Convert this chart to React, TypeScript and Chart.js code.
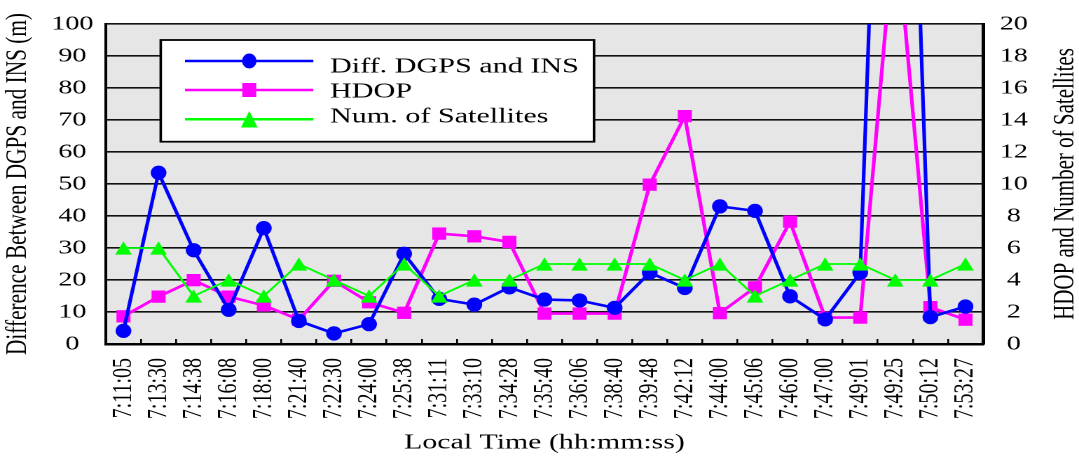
import React, { useEffect, useRef } from 'react';
import { Chart, registerables } from 'chart.js';

Chart.register(...registerables);

// ---------- data ----------
const categories = [
  '7:11:05', '7:13:30', '7:14:38', '7:16:08', '7:18:00', '7:21:40', '7:22:30', '7:24:00', '7:25:38',
  '7:31:11', '7:33:10', '7:34:28', '7:35:40', '7:36:06', '7:38:40', '7:39:48', '7:42:12', '7:44:00',
  '7:45:06', '7:46:00', '7:47:00', '7:49:01', '7:49:25', '7:50:12', '7:53:27',
];
const diffDgpsIns = [
  4.1, 53.5, 29.3, 10.7, 36.2, 7.2, 3.3, 6.2, 28.2, 14.1, 12.3, 17.7, 13.9, 13.6, 11.3, 22.3, 17.5,
  43.0, 41.6, 14.9, 7.7, 22.3, 330, 8.4, 11.7,
];
const hdop = [
  1.73, 2.96, 3.99, 2.96, 2.41, 1.52, 3.95, 2.61, 1.95, 6.9, 6.73, 6.38, 1.9, 1.9, 1.9, 9.96, 14.24,
  1.93, 3.54, 7.65, 1.65, 1.65, 26.7, 2.3, 1.52,
];
const numSatellites = [6, 6, 3, 4, 3, 5, 4, 3, 5, 3, 4, 4, 5, 5, 5, 5, 4, 5, 3, 4, 5, 5, 4, 4, 5];

const seriesLabels = ['Diff. DGPS and INS', 'HDOP', 'Num. of Satellites'];
const leftAxisTitle = 'Difference Between DGPS and INS (m)';
const rightAxisTitle = 'HDOP and Number of Satellites';
const xAxisTitle = 'Local Time (hh:mm:ss)';

// ---------- styling ----------
const CANVAS_W = 770;
const CANVAS_H = 457;
const SX = 1079 / CANVAS_W;
const FONT = "'Liberation Serif', 'Times New Roman', serif";

type Shape = 'circle' | 'square' | 'triangle';
interface MarkerStyle { shape: Shape; color: string; w: number; h: number; lw: number; lgW: number; lgH: number }
const styles: MarkerStyle[] = [
  { shape: 'circle', color: '#0000ff', w: 11.2, h: 14.3, lw: 2.6, lgW: 10.2, lgH: 15 },
  { shape: 'square', color: '#ff00ff', w: 10, h: 12.3, lw: 2.6, lgW: 10, lgH: 14 },
  { shape: 'triangle', color: '#00ff00', w: 11.9, h: 13.3, lw: 1.7, lgW: 11.9, lgH: 16.5 },
];

function drawMarker(ctx: CanvasRenderingContext2D, s: MarkerStyle, x: number, y: number, w: number, h: number) {
  ctx.save();
  ctx.fillStyle = s.color;
  ctx.beginPath();
  if (s.shape === 'circle') {
    ctx.ellipse(x, y, w / 2, h / 2, 0, 0, Math.PI * 2);
  } else if (s.shape === 'square') {
    ctx.rect(x - w / 2, y - h / 2, w, h);
  } else {
    ctx.moveTo(x, y - h / 2);
    ctx.lineTo(x + w / 2, y + h / 2);
    ctx.lineTo(x - w / 2, y + h / 2);
    ctx.closePath();
  }
  ctx.fill();
  ctx.restore();
}

const plotBackground = {
  id: 'plotBackground',
  beforeDraw(chart: any) {
    const { ctx, chartArea: a } = chart;
    ctx.save();
    ctx.fillStyle = '#e6e6e6';
    ctx.fillRect(a.left, a.top, a.right - a.left, a.bottom - a.top);
    ctx.restore();
  },
};

const markers = {
  id: 'markers',
  afterDatasetDraw(chart: any, args: any) {
    const s = styles[args.index];
    const a = chart.chartArea;
    for (const el of args.meta.data) {
      if (el.skip) continue;
      if (el.y < a.top - 0.5 || el.y > a.bottom + 0.5) continue;
      drawMarker(chart.ctx, s, el.x, el.y, s.w, s.h);
    }
  },
};

const boxLegend = {
  id: 'boxLegend',
  afterDraw(chart: any) {
    const ctx = chart.ctx as CanvasRenderingContext2D;
    const bx = 114.7, by = 40, bw = 309.2, bh = 101.7;
    ctx.save();
    ctx.fillStyle = '#ffffff';
    ctx.fillRect(bx, by, bw, bh);
    ctx.strokeStyle = '#000';
    ctx.lineWidth = 1.8;
    ctx.strokeRect(bx, by, bw, bh);
    const rowsLine = [61, 90, 119.3];
    const rowsText = [72.6, 97.6, 122.5];
    chart.data.datasets.forEach((ds: any, i: number) => {
      const s = styles[i];
      ctx.strokeStyle = s.color;
      ctx.lineWidth = 2.5;
      ctx.beginPath();
      ctx.moveTo(132, rowsLine[i]);
      ctx.lineTo(223.6, rowsLine[i]);
      ctx.stroke();
      drawMarker(ctx, s, 177.9, rowsLine[i], s.lgW, s.lgH);
      ctx.fillStyle = '#000';
      ctx.font = `21.5px ${FONT}`;
      ctx.textAlign = 'left';
      ctx.textBaseline = 'alphabetic';
      ctx.fillText(ds.label, 235.5, rowsText[i]);
    });
    ctx.restore();
  },
};

const rightTitle = {
  id: 'rightTitle',
  afterDraw(chart: any) {
    const ctx = chart.ctx as CanvasRenderingContext2D;
    const a = chart.chartArea;
    const sc = chart.scales.y1;
    ctx.save();
    ctx.translate(sc.right - 9.4, (a.top + a.bottom) / 2);
    ctx.rotate(-Math.PI / 2);
    ctx.font = `21px ${FONT}`;
    ctx.fillStyle = '#000';
    ctx.textAlign = 'center';
    ctx.textBaseline = 'middle';
    ctx.fillText(rightAxisTitle, 0, 0);
    ctx.restore();
  },
};

export default function App() {
  const ref = useRef<HTMLCanvasElement | null>(null);

  useEffect(() => {
    const canvas = ref.current;
    if (!canvas) return;
    const tickFont = { family: FONT, size: 20 };
    const titleFont = { family: FONT, size: 21.3 };
    const chart = new Chart(canvas, {
      type: 'line',
      data: {
        labels: categories,
        datasets: [
          {
            label: seriesLabels[0], data: diffDgpsIns, yAxisID: 'y', order: 1,
            borderColor: styles[0].color, borderWidth: styles[0].lw,
            pointRadius: 0, pointHoverRadius: 0, tension: 0, fill: false, borderJoinStyle: 'round',
          },
          {
            label: seriesLabels[1], data: hdop, yAxisID: 'y1', order: 2,
            borderColor: styles[1].color, borderWidth: styles[1].lw,
            pointRadius: 0, pointHoverRadius: 0, tension: 0, fill: false, borderJoinStyle: 'round',
          },
          {
            label: seriesLabels[2], data: numSatellites, yAxisID: 'y1', order: 0,
            borderColor: styles[2].color, borderWidth: styles[2].lw,
            pointRadius: 0, pointHoverRadius: 0, tension: 0, fill: false, borderJoinStyle: 'round',
          },
        ],
      },
      options: {
        animation: false,
        responsive: false,
        devicePixelRatio: 2,
        layout: { padding: { top: 20, left: 0, right: 0, bottom: 0 } },
        plugins: { legend: { display: false }, tooltip: { enabled: false }, title: { display: false } },
        events: [],
        scales: {
          x: {
            type: 'category',
            offset: true,
            ticks: { autoSkip: false, minRotation: 90, maxRotation: 90, padding: 19, color: '#000', font: tickFont },
            grid: { display: true, drawOnChartArea: false, drawTicks: true, tickLength: -5, color: '#000', lineWidth: 1.3, offset: true },
            border: { display: true, color: '#000', width: 2.5 },
            title: { display: true, text: xAxisTitle, color: '#000', font: titleFont, padding: { top: 0, bottom: 1.2 } },
            afterFit: (s: any) => { s.height = 113; },
          },
          y: {
            position: 'left',
            min: 0,
            max: 100,
            ticks: { stepSize: 10, color: '#000', font: tickFont, padding: 9, crossAlign: 'center' },
            grid: { color: '#111', lineWidth: 1.6, drawTicks: false },
            border: { display: true, color: '#000', width: 2 },
            title: { display: true, text: leftAxisTitle, color: '#000', font: titleFont, padding: { top: 0, bottom: 0 } },
            afterFit: (s: any) => { s.width = 75.6; },
          },
          y1: {
            position: 'right',
            min: 0,
            max: 20,
            ticks: { stepSize: 2, color: '#000', font: tickFont, padding: 12, crossAlign: 'center' },
            grid: { display: false, drawOnChartArea: false, drawTicks: false },
            border: { display: true, color: '#000', width: 2.5 },
            afterFit: (s: any) => { s.width = 68.5; },
          },
        },
      } as any,
      plugins: [plotBackground, markers, boxLegend, rightTitle],
    });
    return () => chart.destroy();
  }, []);

  return (
    <div
      style={{
        position: 'fixed',
        left: 0,
        top: 0,
        width: CANVAS_W,
        height: CANVAS_H,
        transform: `scaleX(${SX})`,
        transformOrigin: '0 0',
      }}
    >
      <canvas ref={ref} width={CANVAS_W} height={CANVAS_H} />
    </div>
  );
}
